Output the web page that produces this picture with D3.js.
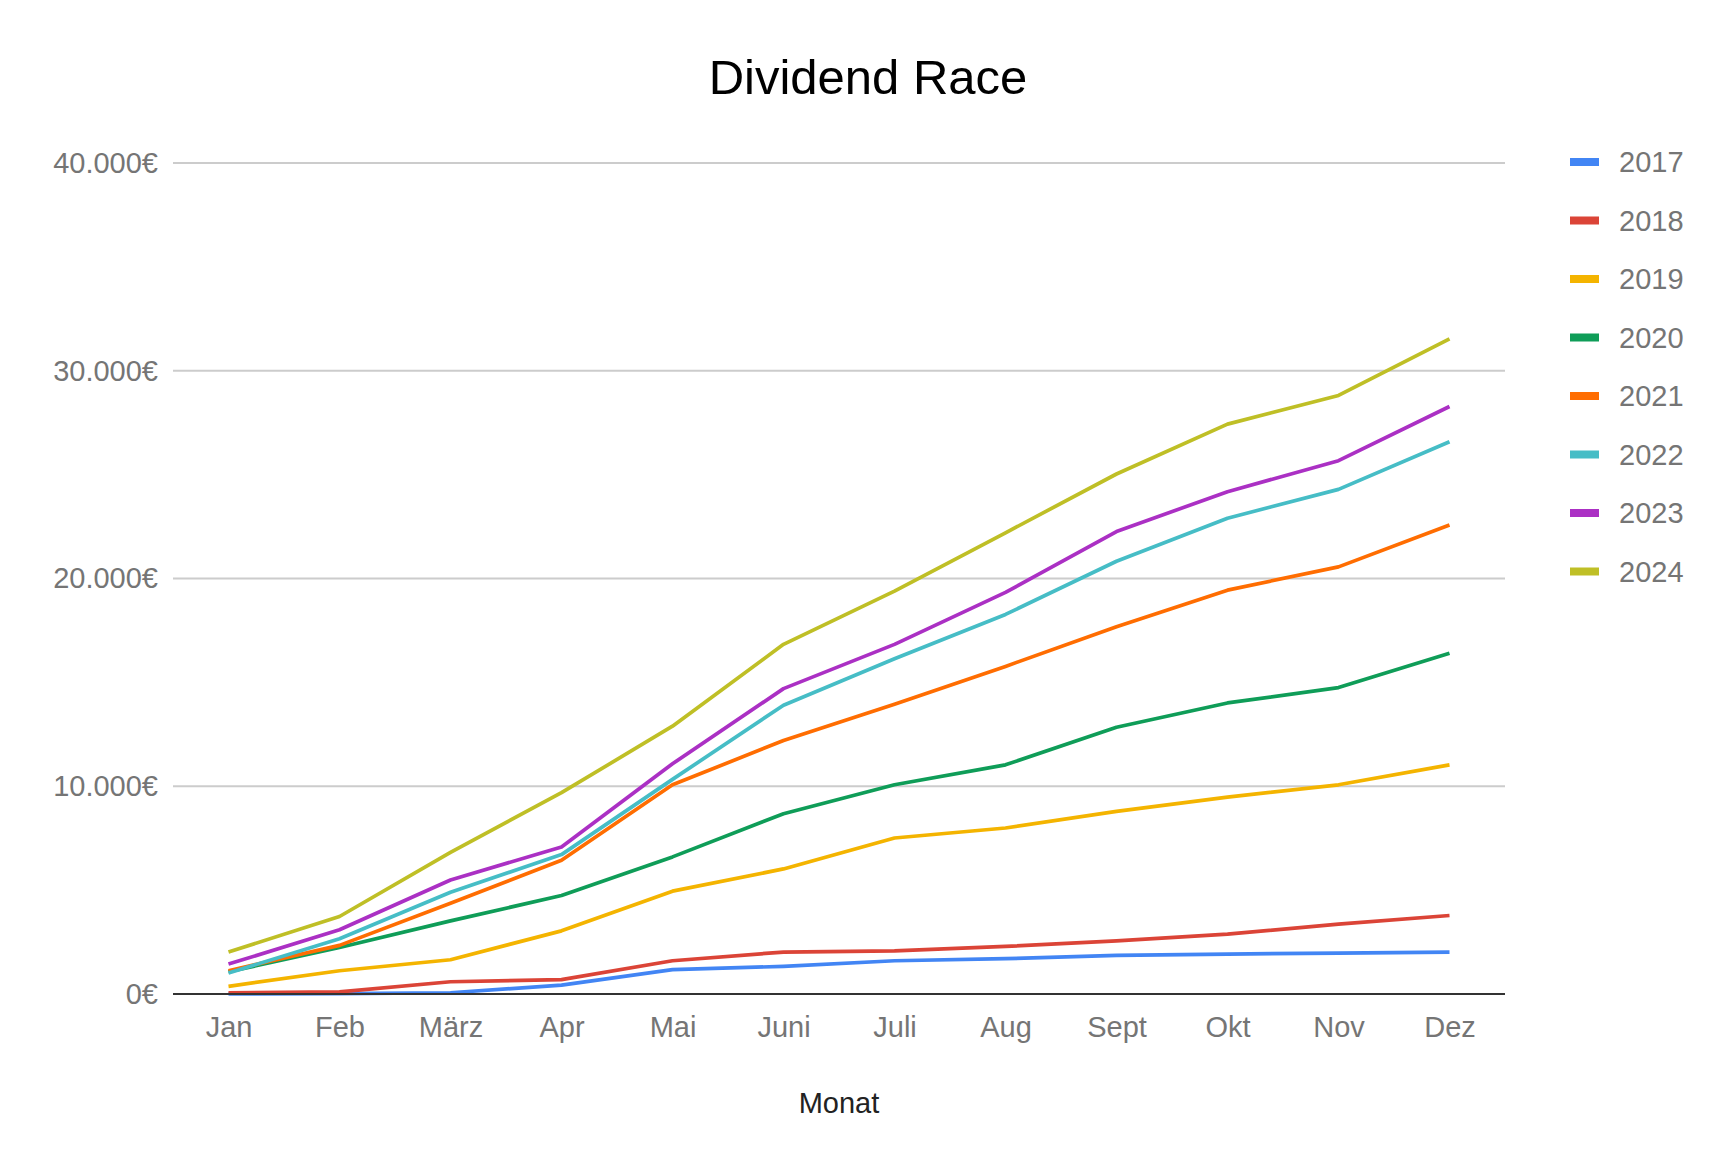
<!DOCTYPE html>
<html>
<head>
<meta charset="utf-8">
<script src="https://cdn.jsdelivr.net/npm/d3@7"></script>
<style>
  html, body { margin: 0; padding: 0; background: #fff; }
  svg { display: block; font-family: Arial, "Liberation Sans", sans-serif; }
</style>
</head>
<body>
<svg id="chart" width="1735" height="1169"></svg>
<script>
const months = ["Jan", "Feb", "März", "Apr", "Mai", "Juni", "Juli", "Aug", "Sept", "Okt", "Nov", "Dez"];
const years = ["2017", "2018", "2019", "2020", "2021", "2022", "2023", "2024"];
const colors = ["#4285f4", "#db4437", "#f4b400", "#0f9d58", "#ff6d01", "#46bdc6", "#ab30c4", "#bfbf26"];
const yTicks = [0, 10000, 20000, 30000, 40000];

const v2017 = [0, 20, 60, 430, 1170, 1330, 1600, 1700, 1860, 1920, 1970, 2020];
const v2018 = [50, 100, 590, 690, 1600, 2020, 2080, 2290, 2560, 2880, 3360, 3780];
const v2019 = [370, 1120, 1650, 3040, 4950, 6020, 7510, 7990, 8790, 9480, 10070, 11030];
const v2020 = [1070, 2240, 3520, 4740, 6600, 8680, 10070, 11030, 12840, 14010, 14750, 16400];
const v2021 = [1120, 2340, 4370, 6440, 10070, 12200, 13950, 15770, 17680, 19440, 20560, 22580];
const v2022 = [1010, 2660, 4900, 6710, 10330, 13900, 16140, 18270, 20830, 22900, 24290, 26580];
const v2023 = [1440, 3090, 5490, 7080, 11080, 14700, 16830, 19330, 22260, 24180, 25670, 28280];
const v2024 = [2020, 3730, 6820, 9690, 12890, 16830, 19390, 22200, 25030, 27430, 28810, 31530];

const seriesValues = [v2017, v2018, v2019, v2020, v2021, v2022, v2023, v2024];
const series = years.map((y, i) => ({ name: y, color: colors[i], values: seriesValues[i] }));

const svg = d3.select("#chart");
const plot = { left: 173, right: 1505, top: 163, bottom: 994 };

const x = d3.scalePoint().domain(months).range([plot.left, plot.right]).padding(0.5);
const y = d3.scaleLinear().domain([0, 40000]).range([plot.bottom, plot.top]);

const fmt = v => d3.format(",")(v).replace(/,/g, ".") + "€";

// Title
svg.append("text")
  .attr("x", 868).attr("y", 94)
  .attr("text-anchor", "middle")
  .attr("font-size", 49)
  .attr("fill", "#000")
  .text("Dividend Race");

// Gridlines
svg.append("g").selectAll("line").data(yTicks.filter(d => d > 0)).join("line")
  .attr("x1", plot.left).attr("x2", plot.right)
  .attr("y1", d => y(d)).attr("y2", d => y(d))
  .attr("stroke", "#cccccc").attr("stroke-width", 2);

// Y axis labels
const yAxis = d3.axisLeft(y).tickValues(yTicks).tickFormat(fmt).tickSize(0).tickPadding(15);
const gy = svg.append("g").attr("transform", `translate(${plot.left},0)`).call(yAxis);
gy.select(".domain").remove();
gy.selectAll("text").attr("font-size", 29).attr("fill", "#757575")
  .attr("font-family", 'Arial, "Liberation Sans", sans-serif');

// X axis labels
const xAxis = d3.axisBottom(x).tickSize(0).tickPadding(22);
const gx = svg.append("g").attr("transform", `translate(0,${plot.bottom})`).call(xAxis);
gx.select(".domain").remove();
gx.selectAll("text").attr("font-size", 29).attr("fill", "#757575")
  .attr("font-family", 'Arial, "Liberation Sans", sans-serif');

// Lines
const line = d3.line().x((d, i) => x(months[i])).y(d => y(d));
svg.append("g").selectAll("path").data(series).join("path")
  .attr("d", d => line(d.values))
  .attr("fill", "none")
  .attr("stroke", d => d.color)
  .attr("stroke-width", 3.7)
  .attr("stroke-linejoin", "round");

// Baseline
svg.append("line")
  .attr("x1", plot.left).attr("x2", plot.right)
  .attr("y1", y(0)).attr("y2", y(0))
  .attr("stroke", "#333333").attr("stroke-width", 2);

// X axis title
svg.append("text")
  .attr("x", (plot.left + plot.right) / 2).attr("y", 1113)
  .attr("text-anchor", "middle")
  .attr("font-size", 29)
  .attr("fill", "#222222")
  .text("Monat");

// Legend
const legend = svg.append("g").selectAll("g").data(series).join("g")
  .attr("transform", (d, i) => `translate(1570, ${162 + i * 58.5})`);
legend.append("rect")
  .attr("x", 0).attr("y", -4).attr("width", 29).attr("height", 8)
  .attr("fill", d => d.color);
legend.append("text")
  .attr("x", 49).attr("y", 0).attr("dy", "0.36em")
  .attr("font-size", 29).attr("fill", "#757575")
  .text(d => d.name);
</script>
</body>
</html>
